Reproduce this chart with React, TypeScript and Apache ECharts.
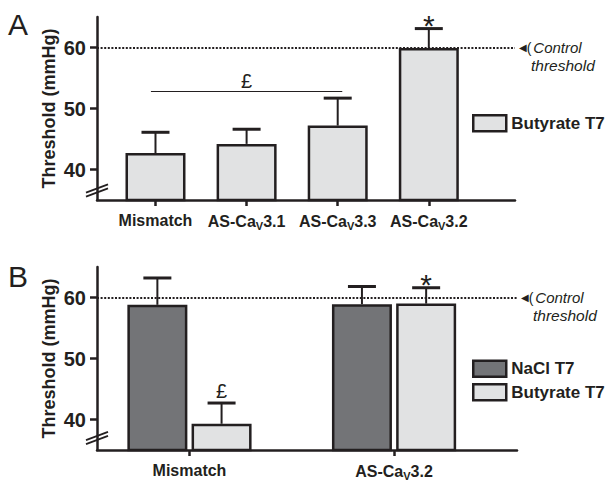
import React, { useEffect, useRef } from 'react';
import * as echarts from 'echarts';

// ---------- data ----------
const categoriesA = ['Mismatch', 'AS-CaV3.1', 'AS-CaV3.3', 'AS-CaV3.2'];
const positionsA = [0, 1, 2, 3];
const butyrateA = [42.7, 44.2, 47.2, 59.9];
const butyrateAErrTop = [46.1, 46.6, 51.7, 63.1];
const sigA = ['', '', '', '*'];

const categoriesB = ['Mismatch', 'AS-CaV3.2'];
const positionsB = [0, 1];
const naclB = [58.8, 58.9];
const naclBErrTop = [63.2, 61.8];
const butyrateB = [39.3, 59.0];
const butyrateBErrTop = [42.7, 61.6];
const sigNaclB = ['', ''];
const sigButyrateB = ['£', '*'];

const yTicks = [40, 50, 60];
const yMin = 35;
const yMax = 65;
const controlThreshold = 60;
const bracketA = { from: 0, to: 2, value: 52.8, text: '£' };

// ---------- style ----------
const INK = '#231f20';
const LIGHT = '#e1e2e3';
const DARK = '#737477';
const FONT = '"Liberation Sans", Arial, Helvetica, sans-serif';

const xMinA = -0.642, xMaxA = 3.946;
const xMinB = -0.452, xMaxB = 1.601;

function fmtCat(s: string): string {
  const m = /^(AS-Ca)V(.*)$/.exec(s);
  if (m) return `{n|${m[1]}}{s|V}{n|${m[2]}}`;
  return `{n|${s}}`;
}

const catRich = {
  n: { fontSize: 16, fontWeight: 'bold', color: INK, fontFamily: FONT },
  s: { fontSize: 11, fontWeight: 'bold', color: INK, fontFamily: FONT, padding: [8, 0, 0, 0] },
};

function errRender(offset: number, sigs: string[]) {
  return (params: any, api: any) => {
    const x = api.value(0);
    const m = api.value(1);
    const e = api.value(2);
    const p0 = api.coord([x, m]);
    const p1 = api.coord([x, e]);
    const cx = p0[0] + offset;
    const children: any[] = [
      { type: 'line', shape: { x1: cx, y1: p0[1], x2: cx, y2: p1[1] }, style: { stroke: INK, lineWidth: 2 } },
      { type: 'line', shape: { x1: cx - 14, y1: p1[1], x2: cx + 14, y2: p1[1] }, style: { stroke: INK, lineWidth: 3 } },
    ];
    const s = sigs[params.dataIndex];
    if (s) {
      const star = s === '*';
      children.push({
        type: 'text',
        x: cx,
        y: star ? p1[1] - 3 : p1[1] - 12.5,
        style: {
          text: s,
          fontSize: star ? 30 : 20,
          fontFamily: FONT,
          fill: INK,
          align: 'center',
          verticalAlign: 'middle',
        },
      });
    }
    return { type: 'group', children };
  };
}

function thresholdMarkLine(xMin: number, xMax: number, extra: any[] = []) {
  return {
    silent: true,
    symbol: ['none', 'none'],
    data: [
      [
        {
          coord: [xMin, controlThreshold],
          lineStyle: { type: [2, 1.6], width: 2, color: INK },
          label: {
            show: true,
            position: 'end',
            distance: 4,
            offset: [0, 9],
            lineHeight: 18,
            fontSize: 15,
            formatter: '{a|◀}{b|(}{c|Control}\n{d|threshold}',
            rich: {
              a: { fontSize: 10, color: INK, fontFamily: 'DejaVu Sans', lineHeight: 18 },
              b: { fontSize: 14, color: INK, fontFamily: FONT, lineHeight: 18 },
              c: { fontSize: 15, fontStyle: 'italic', color: INK, fontFamily: FONT, padding: [0, 0, 0, 2], lineHeight: 18 },
              d: { fontSize: 15.5, fontStyle: 'italic', color: INK, fontFamily: FONT, padding: [0, 0, 0, 12], lineHeight: 18 },
            },
          },
        },
        { coord: [xMax, controlThreshold] },
      ],
      ...extra,
    ],
  };
}

function breakMarks(yc: number) {
  const x0 = 86, x1 = 108, h = 4.1, g = 2;
  return {
    type: 'group',
    z: 100,
    children: [
      {
        type: 'polygon',
        shape: { points: [[x0, yc - g + h], [x1, yc - g - h], [x1, yc + g - h], [x0, yc + g + h]] },
        style: { fill: '#ffffff' },
      },
      { type: 'line', shape: { x1: x0, y1: yc - g + h, x2: x1, y2: yc - g - h }, style: { stroke: INK, lineWidth: 1.8 } },
      { type: 'line', shape: { x1: x0, y1: yc + g + h, x2: x1, y2: yc + g - h }, style: { stroke: INK, lineWidth: 1.8 } },
    ],
  };
}

function yAxisCfg(gridIndex: number) {
  return {
    gridIndex,
    type: 'value',
    min: yMin,
    max: yMax,
    axisLine: { show: true, onZero: false, lineStyle: { color: INK, width: 2.5 } },
    axisTick: { show: true, length: 7, customValues: yTicks, lineStyle: { color: INK, width: 2.5 } },
    axisLabel: { customValues: yTicks, margin: 11, fontSize: 20, fontWeight: 'bold', color: INK, fontFamily: FONT },
    splitLine: { show: false },
    name: 'Threshold (mmHg)',
    nameLocation: 'middle',
    nameGap: 39,
    nameMoveOverlap: false,
    nameTextStyle: { fontSize: 18, fontWeight: 'bold', color: INK, fontFamily: FONT },
  };
}

function xAxisCfg(gridIndex: number, min: number, max: number, positions: number[], cats: string[]) {
  return {
    gridIndex,
    type: 'value',
    min,
    max,
    axisLine: { show: true, onZero: false, lineStyle: { color: INK, width: 2.5 } },
    axisTick: { show: true, length: 6, customValues: positions, lineStyle: { color: INK, width: 2.5 } },
    axisLabel: {
      customValues: positions,
      margin: 12,
      formatter: (v: number) => fmtCat(cats[Math.round(v)]),
      rich: catRich,
    },
    splitLine: { show: false },
  };
}

const barStyle = (color: string) => ({ color, borderColor: INK, borderWidth: 2.5 });

export default function App() {
  const ref = useRef<HTMLDivElement>(null);
  useEffect(() => {
    document.body.style.margin = '0';
    if (!ref.current) return;
    const chart = echarts.init(ref.current, null, { renderer: 'svg' });
    const legendCommon = {
      icon: 'rect',
      itemWidth: 33,
      itemHeight: 16,
      orient: 'vertical',
      itemGap: 5,
      selectedMode: false,
      itemStyle: { borderColor: INK, borderWidth: 2.5 },
      textStyle: { fontSize: 17, fontWeight: 'bold', color: INK, fontFamily: FONT },
    };
    chart.setOption({
      animation: false,
      textStyle: { fontFamily: FONT },
      grid: [
        { left: 97, top: 17, width: 418, height: 183 },
        { left: 97, top: 267, width: 420, height: 185 },
      ],
      xAxis: [
        xAxisCfg(0, xMinA, xMaxA, positionsA, categoriesA),
        xAxisCfg(1, xMinB, xMaxB, positionsB, categoriesB),
      ],
      yAxis: [yAxisCfg(0), yAxisCfg(1)],
      legend: [
        { ...legendCommon, data: ['Butyrate T7'], left: 467, top: 109 },
        { ...legendCommon, data: ['NaCl T7', 'Butyrate T7'], left: 467, top: 354.5 },
      ],
      graphic: [
        { type: 'text', left: 8, top: 9, style: { text: 'A', fontSize: 30, fontFamily: FONT, fill: INK } },
        { type: 'text', left: 8, top: 261, style: { text: 'B', fontSize: 30, fontFamily: FONT, fill: INK } },
        breakMarks(190.5),
        breakMarks(438),
      ],
      series: [
        {
          type: 'bar',
          name: 'Butyrate T7',
          xAxisIndex: 0,
          yAxisIndex: 0,
          barWidth: 60,
          itemStyle: barStyle(LIGHT),
          data: positionsA.map((x, i) => [x, butyrateA[i]]),
        },
        {
          type: 'custom',
          xAxisIndex: 0,
          yAxisIndex: 0,
          z: 3,
          clip: false,
          silent: true,
          encode: { x: 0, y: [1, 2] },
          renderItem: errRender(0, sigA),
          data: positionsA.map((x, i) => [x, butyrateA[i], butyrateAErrTop[i]]),
          markLine: thresholdMarkLine(xMinA, xMaxA, [
            [
              {
                coord: [bracketA.from - 0.05, bracketA.value],
                lineStyle: { type: 'solid', width: 1.2, color: INK },
                label: {
                  show: true,
                  position: 'middle',
                  distance: 0,
                  formatter: bracketA.text,
                  fontSize: 20,
                  color: INK,
                  fontFamily: FONT,
                },
              },
              { coord: [bracketA.to + 0.05, bracketA.value] },
            ],
          ]),
        },
        {
          type: 'bar',
          name: 'NaCl T7',
          xAxisIndex: 1,
          yAxisIndex: 1,
          barWidth: 60,
          barGap: '7%',
          itemStyle: barStyle(DARK),
          data: positionsB.map((x, i) => [x, naclB[i]]),
        },
        {
          type: 'bar',
          name: 'Butyrate T7',
          xAxisIndex: 1,
          yAxisIndex: 1,
          barWidth: 60,
          barGap: '7%',
          itemStyle: barStyle(LIGHT),
          data: positionsB.map((x, i) => [x, butyrateB[i]]),
        },
        {
          type: 'custom',
          xAxisIndex: 1,
          yAxisIndex: 1,
          z: 3,
          clip: false,
          silent: true,
          encode: { x: 0, y: [1, 2] },
          renderItem: errRender(-32.1, sigNaclB),
          data: positionsB.map((x, i) => [x, naclB[i], naclBErrTop[i]]),
          markLine: thresholdMarkLine(xMinB, xMaxB),
        },
        {
          type: 'custom',
          xAxisIndex: 1,
          yAxisIndex: 1,
          z: 3,
          clip: false,
          silent: true,
          encode: { x: 0, y: [1, 2] },
          renderItem: errRender(32.1, sigButyrateB),
          data: positionsB.map((x, i) => [x, butyrateB[i], butyrateBErrTop[i]]),
        },
      ],
    });
    return () => chart.dispose();
  }, []);
  return <div ref={ref} style={{ width: 607, height: 481 }} />;
}
